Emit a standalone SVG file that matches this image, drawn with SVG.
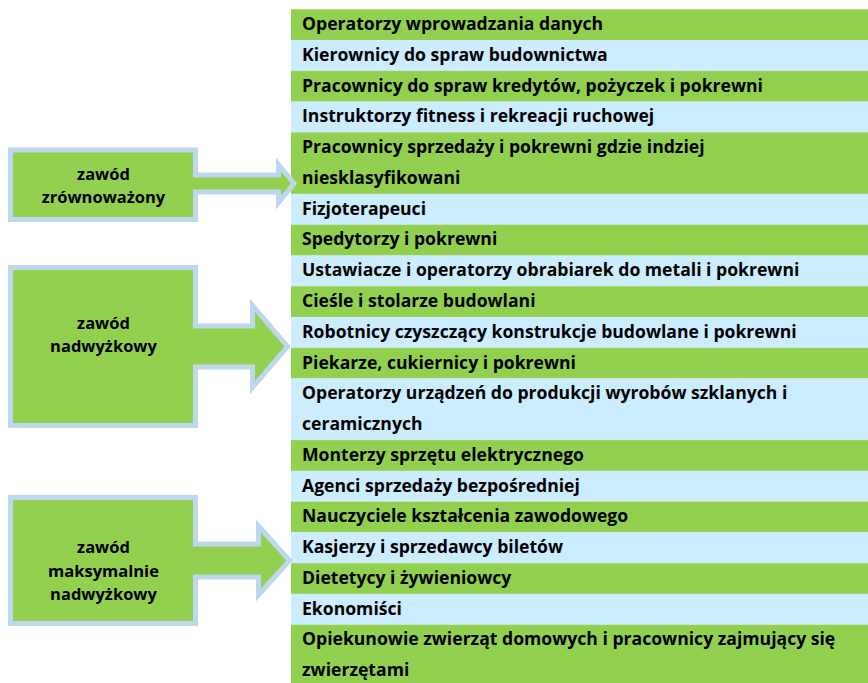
<svg xmlns="http://www.w3.org/2000/svg" width="868" height="683" viewBox="0 0 868 683">
<style>
.g{fill:#92D050}
.b{fill:#CCECFF}
.t{font-family:"Open Sans","Liberation Sans",sans-serif;font-weight:bold;font-size:17.6px;fill:#000}
.bx{fill:#92D050;stroke:#BDD7EE;stroke-width:5;stroke-linejoin:miter}
.bt{font-family:"Open Sans","Liberation Sans",sans-serif;font-weight:bold;font-size:16.5px;fill:#000;text-anchor:middle}
</style>
<rect width="868" height="683" fill="#fff"/>
<g id="table">
<rect class="g" x="291" y="9.3" width="577" height="30.8"/>
<rect class="b" x="291" y="40.1" width="577" height="30.7"/>
<rect class="g" x="291" y="70.8" width="577" height="30.8"/>
<rect class="b" x="291" y="101.6" width="577" height="30.8"/>
<rect class="g" x="291" y="132.4" width="577" height="61.5"/>
<rect class="b" x="291" y="193.9" width="577" height="30.8"/>
<rect class="g" x="291" y="224.7" width="577" height="30.8"/>
<rect class="b" x="291" y="255.5" width="577" height="30.7"/>
<rect class="g" x="291" y="286.2" width="577" height="30.8"/>
<rect class="b" x="291" y="317" width="577" height="30.8"/>
<rect class="g" x="291" y="347.8" width="577" height="30.7"/>
<rect class="b" x="291" y="378.5" width="577" height="61.6"/>
<rect class="g" x="291" y="440.1" width="577" height="30.8"/>
<rect class="b" x="291" y="470.9" width="577" height="30.7"/>
<rect class="g" x="291" y="501.6" width="577" height="30.8"/>
<rect class="b" x="291" y="532.4" width="577" height="30.8"/>
<rect class="g" x="291" y="563.2" width="577" height="30.7"/>
<rect class="b" x="291" y="593.9" width="577" height="30.8"/>
<rect class="g" x="291" y="624.7" width="577" height="62"/>
<text class="t" x="302" y="30">Operatorzy wprowadzania danych</text>
<text class="t" x="302" y="60.8">Kierownicy do spraw budownictwa</text>
<text class="t" x="302" y="91.5">Pracownicy do spraw kredytów, pożyczek i pokrewni</text>
<text class="t" x="302" y="122.3">Instruktorzy fitness i rekreacji ruchowej</text>
<text class="t" x="302" y="153.1">Pracownicy sprzedaży i pokrewni gdzie indziej</text>
<text class="t" x="302" y="183.9">niesklasyfikowani</text>
<text class="t" x="302" y="214.6">Fizjoterapeuci</text>
<text class="t" x="302" y="245.4">Spedytorzy i pokrewni</text>
<text class="t" x="302" y="276.2">Ustawiacze i operatorzy obrabiarek do metali i pokrewni</text>
<text class="t" x="302" y="306.9">Cieśle i stolarze budowlani</text>
<text class="t" x="302" y="337.7">Robotnicy czyszczący konstrukcje budowlane i pokrewni</text>
<text class="t" x="302" y="368.5">Piekarze, cukiernicy i pokrewni</text>
<text class="t" x="302" y="399.2">Operatorzy urządzeń do produkcji wyrobów szklanych i</text>
<text class="t" x="302" y="430">ceramicznych</text>
<text class="t" x="302" y="460.8">Monterzy sprzętu elektrycznego</text>
<text class="t" x="302" y="491.6">Agenci sprzedaży bezpośredniej</text>
<text class="t" x="302" y="522.3">Nauczyciele kształcenia zawodowego</text>
<text class="t" x="302" y="553.1">Kasjerzy i sprzedawcy biletów</text>
<text class="t" x="302" y="583.9">Dietetycy i żywieniowcy</text>
<text class="t" x="302" y="614.6">Ekonomiści</text>
<text class="t" x="302" y="645.4">Opiekunowie zwierząt domowych i pracownicy zajmujący się</text>
<text class="t" x="302" y="676.2">zwierzętami</text>
</g>
<g id="node-zrownowazony">
<polygon class="bx" points="10.5,150 195.5,150 195.5,175 278.5,175 278.5,164.5 294,183.5 278.5,202.5 278.5,192 195.5,192 195.5,219.5 10.5,219.5"/>
<text class="bt" x="103.5" y="180">zawód</text>
<text class="bt" x="103.5" y="203">zrównoważony</text>
</g>
<g id="node-nadwyzkowy">
<polygon class="bx" points="10.5,267.5 195.5,267.5 195.5,326 252.5,326 252.5,305.5 287.5,346.5 252.5,387.5 252.5,367 195.5,367 195.5,425.5 10.5,425.5"/>
<text class="bt" x="103.5" y="329">zawód</text>
<text class="bt" x="103.5" y="352">nadwyżkowy</text>
</g>
<g id="node-maksymalnie">
<polygon class="bx" points="10.5,497.5 195.5,497.5 195.5,544 258.5,544 258.5,526 289.5,560.5 258.5,595 258.5,577 195.5,577 195.5,623.5 10.5,623.5"/>
<text class="bt" x="103.5" y="553">zawód</text>
<text class="bt" x="103.5" y="577">maksymalnie</text>
<text class="bt" x="103.5" y="600">nadwyżkowy</text>
</g>
<g id="connectors"/>
</svg>
